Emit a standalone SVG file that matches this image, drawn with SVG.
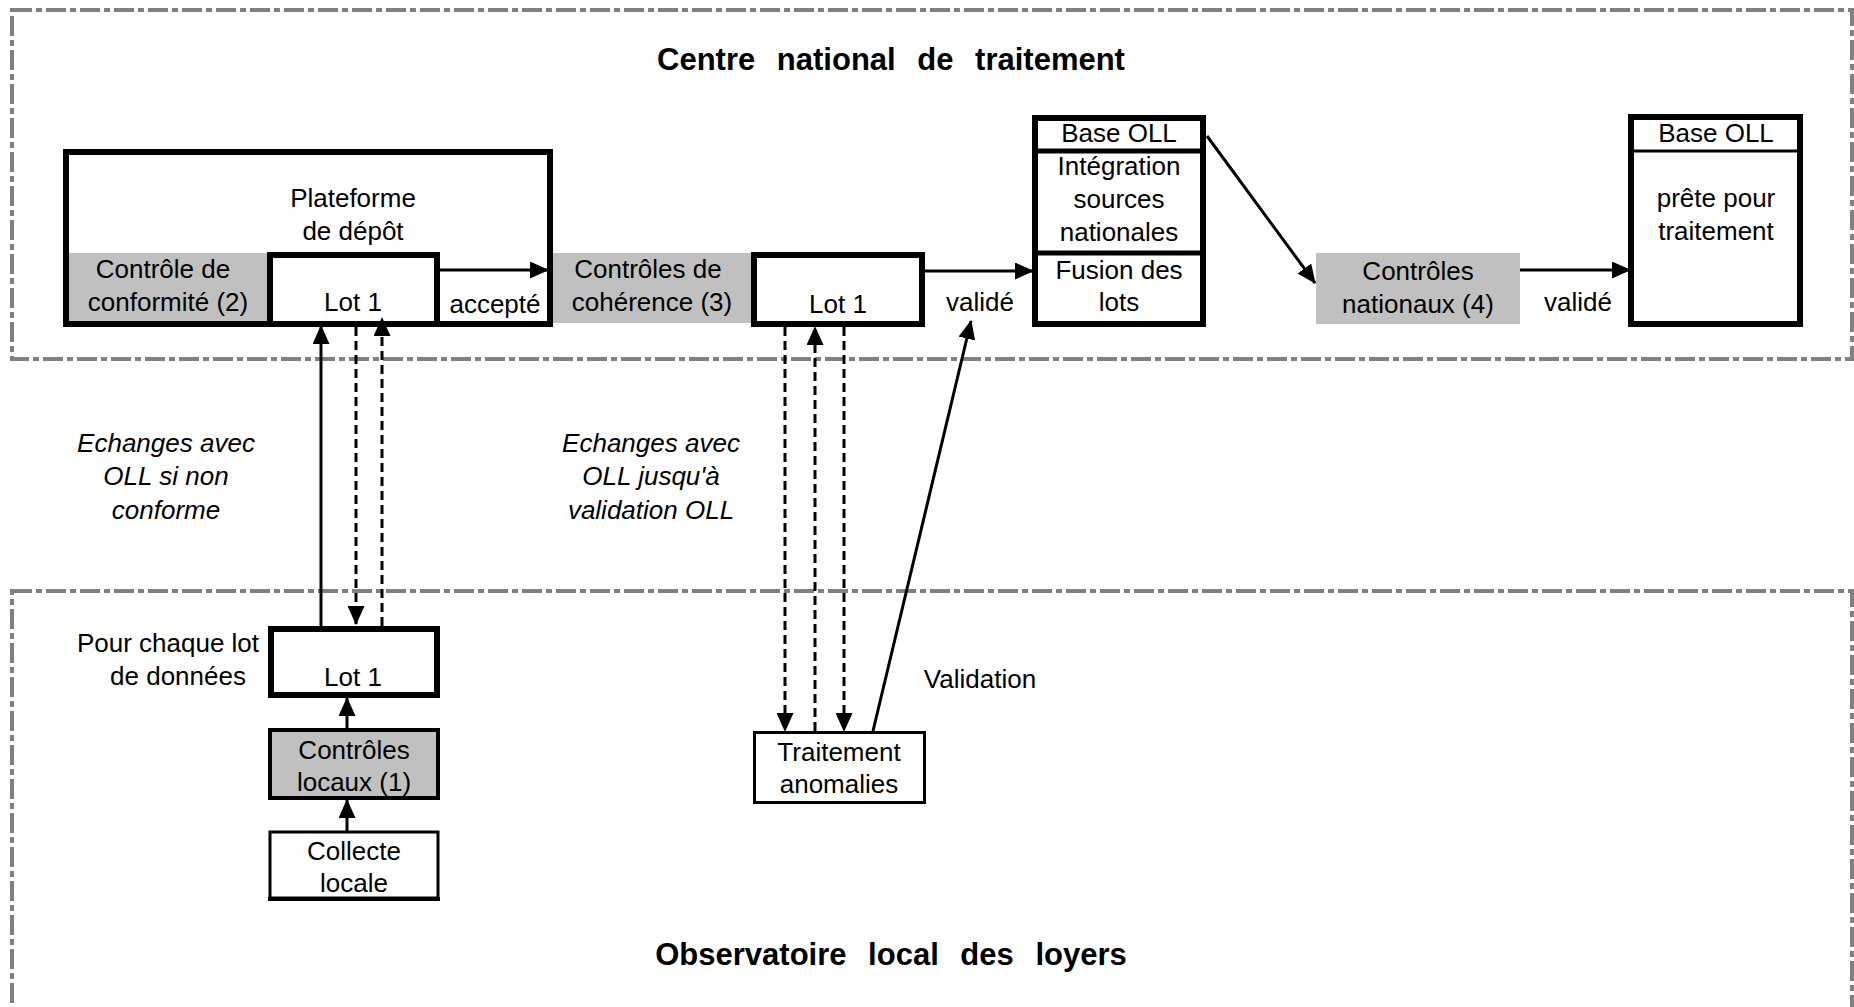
<svg xmlns="http://www.w3.org/2000/svg" width="1854" height="1007" viewBox="0 0 1854 1007">
<style>
text{font-family:"Liberation Sans",Arial,sans-serif;font-size:26px;fill:#000;text-anchor:middle}
.title{font-weight:bold;font-size:31px;word-spacing:13px}
.it{font-style:italic}
.zone{fill:none;stroke:#808080;stroke-width:4;stroke-dasharray:20 4 6 4}
.thick{fill:#fff;stroke:#000;stroke-width:6}
.thin{fill:#fff;stroke:#000;stroke-width:3}
.gray{fill:#c0c0c0}
.ln{fill:none;stroke:#000;stroke-width:3}
.dash{fill:none;stroke:#000;stroke-width:3;stroke-dasharray:9 5}
</style>
<defs>
<marker id="ah" markerUnits="userSpaceOnUse" markerWidth="19" markerHeight="17" viewBox="0 0 19 17" refX="18" refY="8.5" orient="auto">
<path d="M0,0 L19,8.5 L0,17 z" fill="#000"/>
</marker>
</defs>
<rect width="1854" height="1007" fill="#fff"/>
<g id="zone-centre">
<rect class="zone" x="12" y="10" width="1840" height="349"/>
<text class="title" x="891" y="70">Centre national de traitement</text>
</g>
<g id="zone-observatoire">
<rect class="zone" x="12" y="591" width="1840" height="440"/>
<text class="title" x="891" y="965">Observatoire local des loyers</text>
</g>
<g id="plateforme">
<rect class="thick" x="66" y="152" width="484" height="172"/>
<rect class="gray" x="69" y="253" width="201" height="68"/>
<text x="353" y="207">Plateforme</text>
<text x="353" y="240">de dépôt</text>
<text x="163" y="278">Contrôle de</text>
<text x="168" y="311">conformité (2)</text>
<text x="495" y="313">accepté</text>
</g>
<g id="lot1-depot">
<rect class="thick" x="270" y="255" width="167" height="69"/>
<text x="353" y="311">Lot 1</text>
</g>
<g id="controles-coherence">
<rect class="gray" x="553" y="253" width="198" height="70"/>
<text x="648" y="278">Contrôles de</text>
<text x="652" y="311">cohérence (3)</text>
</g>
<g id="lot1-coherence">
<rect class="thick" x="754" y="255" width="168" height="69"/>
<text x="838" y="313">Lot 1</text>
</g>
<g id="label-valide-1">
<text x="980" y="311">validé</text>
</g>
<g id="base-oll-1">
<rect class="thick" x="1035" y="118" width="168" height="206"/>
<line x1="1035" y1="151" x2="1203" y2="151" stroke="#000" stroke-width="5"/>
<line x1="1035" y1="253" x2="1203" y2="253" stroke="#000" stroke-width="5"/>
<text x="1119" y="142">Base OLL</text>
<text x="1119" y="175">Intégration</text>
<text x="1119" y="208">sources</text>
<text x="1119" y="241">nationales</text>
<text x="1119" y="279">Fusion des</text>
<text x="1119" y="311">lots</text>
</g>
<g id="controles-nationaux">
<rect class="gray" x="1316" y="253" width="204" height="71"/>
<text x="1418" y="280">Contrôles</text>
<text x="1418" y="313">nationaux (4)</text>
</g>
<g id="label-valide-2">
<text x="1578" y="311">validé</text>
</g>
<g id="base-oll-2">
<rect class="thick" x="1631" y="117" width="169" height="207"/>
<line x1="1631" y1="151" x2="1800" y2="151" stroke="#000" stroke-width="3"/>
<text x="1716" y="142">Base OLL</text>
<text x="1716" y="207">prête pour</text>
<text x="1716" y="240">traitement</text>
</g>
<g id="label-echanges-1">
<text class="it" x="166" y="452">Echanges avec</text>
<text class="it" x="166" y="485">OLL si non</text>
<text class="it" x="166" y="519">conforme</text>
</g>
<g id="label-echanges-2">
<text class="it" x="651" y="452">Echanges avec</text>
<text class="it" x="651" y="485">OLL jusqu'à</text>
<text class="it" x="651" y="519">validation OLL</text>
</g>
<g id="label-pour-chaque">
<text x="168" y="652">Pour chaque lot</text>
<text x="178" y="685">de données</text>
</g>
<g id="lot1-local">
<rect class="thick" x="271" y="629" width="166" height="66"/>
<text x="353" y="686">Lot 1</text>
</g>
<g id="controles-locaux">
<rect x="270" y="730" width="168" height="68" fill="#c0c0c0" stroke="#000" stroke-width="4"/>
<text x="354" y="759">Contrôles</text>
<text x="354" y="791">locaux (1)</text>
</g>
<g id="collecte-locale">
<rect class="thin" x="270" y="832" width="168" height="66"/>
<line x1="268" y1="899" x2="440" y2="899" stroke="#000" stroke-width="4"/>
<text x="354" y="860">Collecte</text>
<text x="354" y="892">locale</text>
</g>
<g id="traitement-anomalies">
<rect class="thin" x="754.5" y="732.5" width="170" height="70"/>
<text x="839" y="761">Traitement</text>
<text x="839" y="793">anomalies</text>
</g>
<g id="label-validation">
<text x="980" y="688">Validation</text>
</g>
<g id="connectors">
<line class="ln" x1="437" y1="270" x2="548" y2="270" marker-end="url(#ah)"/>
<line class="ln" x1="922" y1="271" x2="1033" y2="271" marker-end="url(#ah)"/>
<line class="ln" x1="1207" y1="136" x2="1315" y2="283" marker-end="url(#ah)"/>
<line class="ln" x1="1520" y1="270" x2="1630" y2="270" marker-end="url(#ah)"/>
<line class="ln" x1="321" y1="626" x2="321" y2="326" marker-end="url(#ah)"/>
<line class="dash" x1="356" y1="327" x2="356" y2="624" marker-end="url(#ah)"/>
<line class="dash" x1="382" y1="626" x2="382" y2="318" marker-end="url(#ah)"/>
<line class="ln" x1="347" y1="728" x2="347" y2="698" marker-end="url(#ah)"/>
<line class="ln" x1="347" y1="831" x2="347" y2="800" marker-end="url(#ah)"/>
<line class="dash" x1="785" y1="327" x2="785" y2="731" marker-end="url(#ah)"/>
<line class="dash" x1="815" y1="731" x2="815" y2="327" marker-end="url(#ah)"/>
<line class="dash" x1="844" y1="327" x2="844" y2="731" marker-end="url(#ah)"/>
<line class="ln" x1="873" y1="731" x2="971" y2="321" marker-end="url(#ah)"/>
</g>
</svg>
